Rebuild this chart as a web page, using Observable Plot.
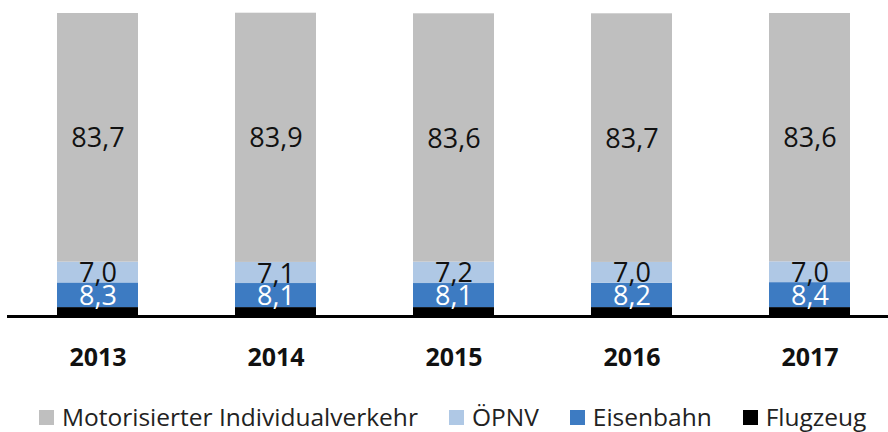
<!DOCTYPE html>
<html>
<head>
<meta charset="utf-8">
<script src="https://cdn.jsdelivr.net/npm/d3@7"></script>
<script src="https://cdn.jsdelivr.net/npm/@observablehq/plot@0.6"></script>
<style>
  html, body { margin: 0; padding: 0; background: #fff; }
  #chart { width: 888px; height: 432px; overflow: hidden; font-family: "Open Sans", sans-serif; }
  .lg-swatches { margin-top: 0 !important; margin-bottom: 0 !important; min-height: 0 !important; height: 30px; line-height: 1.1; padding-top: 16px; flex-wrap: nowrap !important; white-space: nowrap; width: 860px; }
  .lg-swatch { margin-right: 31px !important; flex-shrink: 0; }
  .lg-swatch > svg { margin-right: 8px !important; }
</style>
</head>
<body>
<div id="chart"></div>
<script>
const years = ["2013", "2014", "2015", "2016", "2017"];
const modes = ["Motorisierter Individualverkehr", "ÖPNV", "Eisenbahn", "Flugzeug"];
const colors = ["#bfbfbf", "#afc8e5", "#3d7bc2", "#000000"];
const miv = [83.7, 83.9, 83.6, 83.7, 83.6];
const oepnv = [7.0, 7.1, 7.2, 7.0, 7.0];
const eisenbahn = [8.3, 8.1, 8.1, 8.2, 8.4];
const flugzeug = [3.0, 3.0, 3.0, 3.0, 3.0];

// bottom-up stacking order
const series = [
  ["Flugzeug", flugzeug],
  ["Eisenbahn", eisenbahn],
  ["ÖPNV", oepnv],
  ["Motorisierter Individualverkehr", miv]
];
const data = [];
for (const [mode, vals] of series) {
  years.forEach((y, i) => data.push({year: y, mode, value: vals[i]}));
}
const fmt = v => d3.format(".1f")(v).replace(".", ",");
const labelFill = m => m === "Eisenbahn" ? "#ffffff" : "#111111";

const plot = Plot.plot({
  width: 888,
  height: 386,
  marginTop: 13,
  marginBottom: 70,
  marginLeft: 7,
  marginRight: 0,
  style: {fontFamily: "Open Sans, sans-serif", background: "#fff"},
  x: {domain: years, paddingInner: 0.546, paddingOuter: 0.244, align: 0.563, label: null},
  y: {domain: [0, 102], axis: null},
  color: {domain: modes, range: colors},
  marks: [
    Plot.barY(data, Plot.stackY({x: "year", y: "value", z: "mode", fill: "mode", order: null})),
    Plot.text(data, Plot.stackY({
      x: "year", y: "value", z: "mode", order: null,
      text: d => d.mode === "Flugzeug" ? "" : fmt(d.value),
      fill: d => labelFill(d.mode),
      fontSize: 27, dy: 1
    })),
    Plot.ruleY([0], {stroke: "#000", strokeWidth: 3}),
    Plot.axisX({tickSize: 0, tickPadding: 32, fontSize: 25, fontWeight: "bold", fill: "#111", label: null})
  ]
});

const legend = Plot.legend({
  color: {domain: modes, range: colors},
  legend: "swatches",
  swatchSize: 15,
  className: "lg",
  marginLeft: 39,
  style: {fontSize: "24.5px", fontFamily: "Open Sans, sans-serif", color: "#222"}
});

const chart = document.getElementById("chart");
chart.appendChild(plot);
chart.appendChild(legend);
</script>
</body>
</html>
